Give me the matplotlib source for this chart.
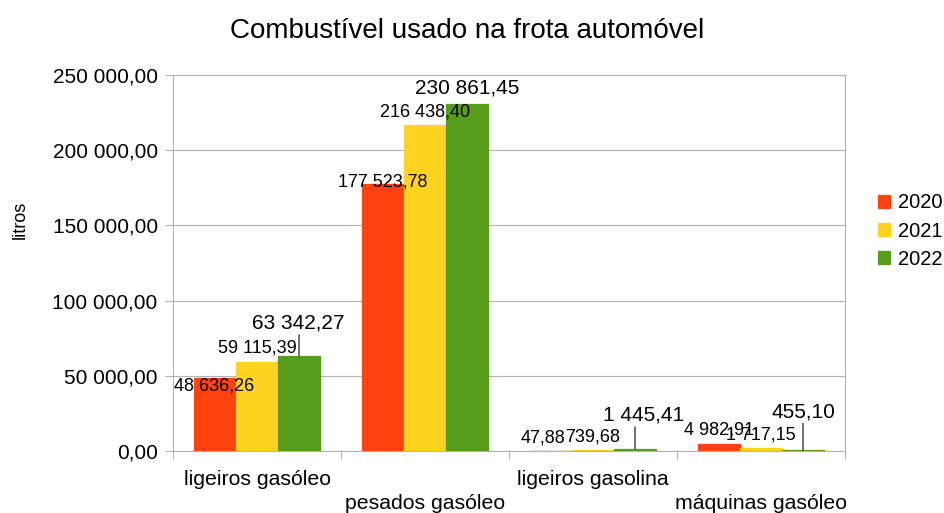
import numpy as np
import matplotlib.pyplot as plt

plt.rcParams['font.family'] = ['Liberation Sans', 'DejaVu Sans']

categories = ['ligeiros gasóleo', 'pesados gasóleo', 'ligeiros gasolina', 'máquinas gasóleo']
years = ['2020', '2021', '2022']
v2020 = [48636.26, 177523.78, 47.88, 4982.91]
v2021 = [59115.39, 216438.40, 739.68, 1717.15]
v2022 = [63342.27, 230861.45, 1445.41, 455.10]
colors = ['#ff420e', '#ffd320', '#579d1c']

# label placement tweaks (pixels): horizontal shift, baseline above bar top, big font, leader line
lab_dx = [[-1, 0, -8, 0], [0, 0, 0, 0], [-1, 0, 9, 0]]
lab_dy = [[-13, -2, 8.5, 9.5], [10, 9, 8.5, 8.5], [27, 10, 28, 33]]
lab_big = [[0, 0, 0, 0], [0, 0, 0, 0], [1, 1, 1, 1]]
lab_line = [[0, 0, 0, 0], [0, 0, 0, 0], [1, 0, 1, 1]]


def fmt(v):
    return f'{v:,.2f}'.replace(',', ' ').replace('.', ',')


fig = plt.figure(figsize=(9.44, 5.13), dpi=100)
ax = fig.add_axes([173 / 944, 1 - 451 / 513, 672 / 944, 376 / 513])

x = np.arange(len(categories))
w = 0.25
px = 0.72  # points per pixel
for k, vals in enumerate([v2020, v2021, v2022]):
    xs = x + (k - 1) * w
    ax.bar(xs, vals, width=w, color=colors[k], edgecolor=colors[k], lw=0.9,
           label=years[k], zorder=3)
    for j, v in enumerate(vals):
        big = lab_big[k][j]
        ax.annotate(fmt(v), (xs[j], v), xytext=(lab_dx[k][j] * px, lab_dy[k][j] * px),
                    textcoords='offset points', ha='center', va='baseline',
                    fontsize=15 if big else 13, zorder=4)
        if lab_line[k][j]:
            ax.annotate('', (xs[j], v), xytext=(0, (lab_dy[k][j] - 6) * px),
                        textcoords='offset points',
                        arrowprops=dict(arrowstyle='-', color='#222222', lw=0.9,
                                        shrinkA=0, shrinkB=0), zorder=4)

ax.set_xlim(-0.5, 3.5)
ax.set_ylim(0, 250000)
ax.set_yticks(np.arange(0, 250001, 50000))
ax.set_yticklabels([fmt(t) for t in np.arange(0, 250001, 50000)], fontsize=15)
ax.tick_params(axis='y', length=6, width=0.8, color='#b3b3b3', pad=5)

ax.set_xticks(x)
ax.set_xticklabels([c if i % 2 == 0 else '\n' + c for i, c in enumerate(categories)],
                   fontsize=15.3, linespacing=1.3)
ax.tick_params(axis='x', which='major', length=0, pad=14)
ax.set_xticks(np.arange(-0.5, 3.6, 1), minor=True)
ax.tick_params(axis='x', which='minor', length=6, width=0.8, color='#b3b3b3')

ax.grid(axis='y', color='#b3b3b3', lw=0.8, zorder=0)
for s in ax.spines.values():
    s.set_color('#b3b3b3')
    s.set_linewidth(0.8)
    s.set_zorder(1)

ax.set_ylabel('litros', fontsize=13)
ax.yaxis.label.set_va('center')
ax.yaxis.set_label_coords(-0.228, 0.614)

fig.text(0.495, 1 - 38 / 513, 'Combustível usado na frota automóvel', ha='center',
         va='baseline', fontsize=20)

ax.legend(loc='center left', bbox_to_anchor=(1.049, 0.585), frameon=False, fontsize=14.5,
          handlelength=0.6, handleheight=0.6, handletextpad=0.4, labelspacing=0.45,
          borderaxespad=0, borderpad=0)

fig.savefig('out.png', dpi=100)
